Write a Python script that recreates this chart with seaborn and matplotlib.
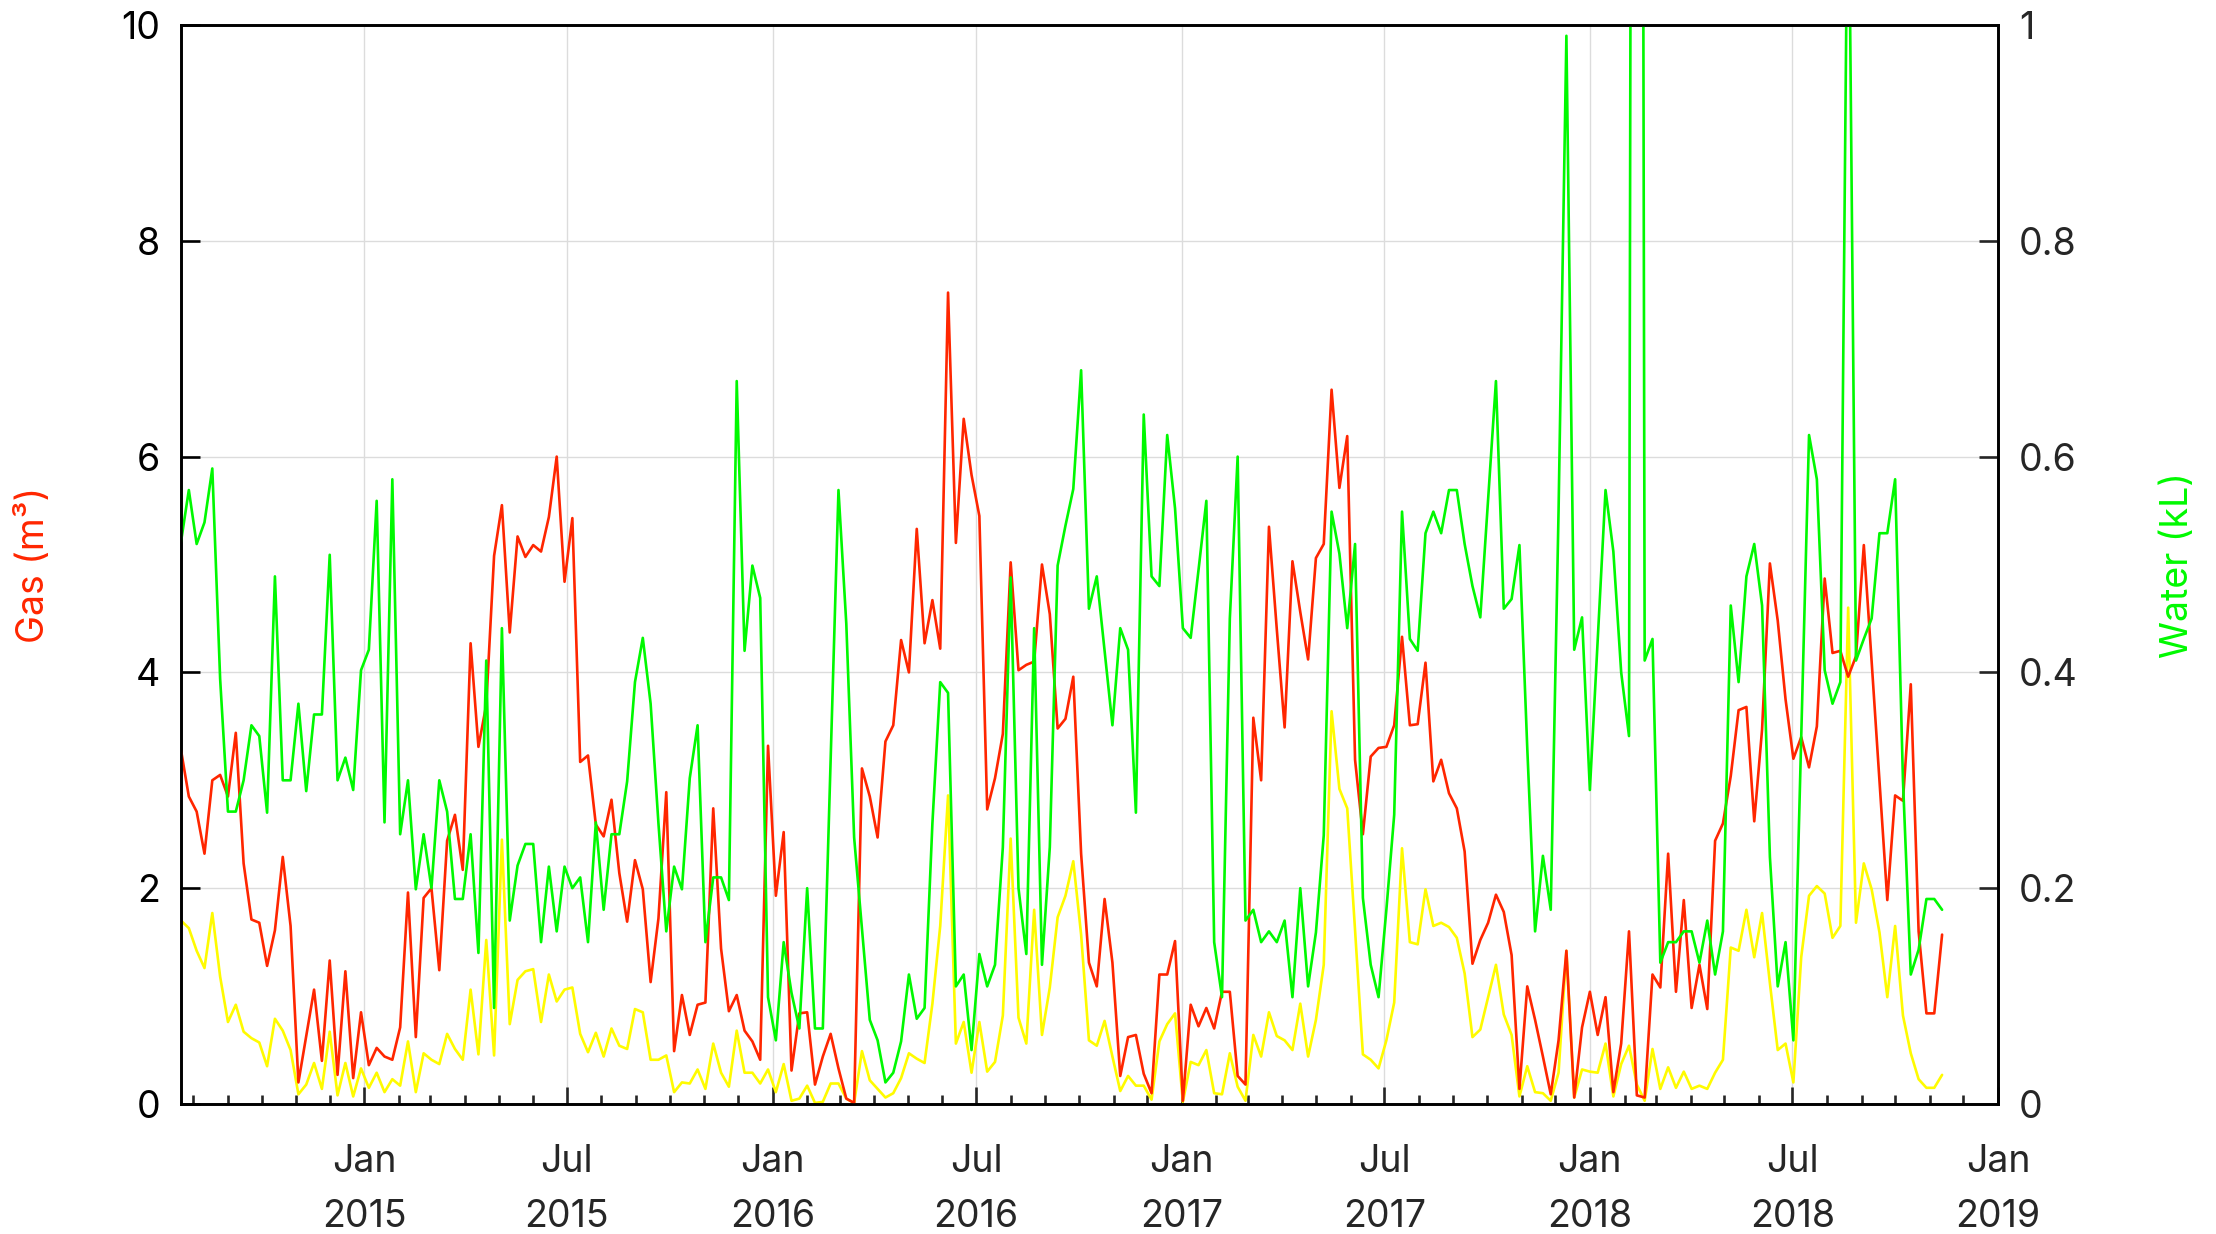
import numpy as np
import pandas as pd
import matplotlib
matplotlib.use("Agg")
import matplotlib.pyplot as plt
import matplotlib.dates as mdates
import seaborn as sns

# ---------------- data (weekly readings) ----------------
start_date = "2014-07-21"
gas = [3.28, 2.85, 2.71, 2.32, 3.0, 3.05, 2.85, 3.44, 2.23, 1.71,
       1.68, 1.28, 1.61, 2.29, 1.65, 0.2, 0.63, 1.06, 0.4, 1.33,
       0.27, 1.23, 0.24, 0.85, 0.36, 0.52, 0.44, 0.41, 0.71, 1.96,
       0.62, 1.91, 2.0, 1.24, 2.44, 2.68, 2.17, 4.27, 3.31, 3.7,
       5.08, 5.55, 4.37, 5.26, 5.07, 5.18, 5.12, 5.44, 6.0, 4.84,
       5.43, 3.17, 3.23, 2.59, 2.48, 2.82, 2.14, 1.69, 2.26, 1.99,
       1.13, 1.72, 2.89, 0.49, 1.01, 0.64, 0.92, 0.94, 2.74, 1.44,
       0.86, 1.01, 0.68, 0.58, 0.41, 3.32, 1.93, 2.52, 0.31, 0.84,
       0.85, 0.18, 0.44, 0.65, 0.33, 0.05, 0.01, 3.11, 2.85, 2.47,
       3.36, 3.51, 4.30, 4.0, 5.33, 4.27, 4.67, 4.22, 7.52, 5.2,
       6.35, 5.83, 5.45, 2.73, 3.02, 3.43, 5.02, 4.02, 4.07, 4.1,
       5.0, 4.54, 3.48, 3.57, 3.96, 2.32, 1.31, 1.09, 1.9, 1.31,
       0.26, 0.62, 0.64, 0.28, 0.1, 1.2, 1.2, 1.51, 0.03, 0.92,
       0.72, 0.89, 0.7, 1.04, 1.04, 0.26, 0.18, 3.58, 3.0, 5.35,
       4.4, 3.49, 5.03, 4.56, 4.12, 5.06, 5.19, 6.62, 5.71, 6.19,
       3.19, 2.5, 3.22, 3.3, 3.31, 3.51, 4.33, 3.51, 3.52, 4.09,
       2.99, 3.19, 2.88, 2.74, 2.34, 1.3, 1.52, 1.68, 1.94, 1.78,
       1.38, 0.14, 1.09, 0.78, 0.44, 0.09, 0.59, 1.42, 0.06, 0.71,
       1.04, 0.64, 0.99, 0.11, 0.56, 1.6, 0.08, 0.06, 1.2, 1.08,
       2.32, 1.04, 1.89, 0.89, 1.29, 0.88, 2.44, 2.6, 3.04, 3.65,
       3.68, 2.62, 3.47, 5.01, 4.48, 3.75, 3.2, 3.4, 3.12, 3.5,
       4.87, 4.18, 4.2, 3.96, 4.15, 5.18, 4.1, 3.0, 1.89, 2.86,
       2.81, 3.89, 1.6, 0.84, 0.84, 1.57]

gas_yellow = [1.70, 1.63, 1.42, 1.26, 1.77, 1.18, 0.76, 0.92, 0.67, 0.61,
              0.57, 0.35, 0.79, 0.68, 0.5, 0.09, 0.18, 0.38, 0.14, 0.67,
              0.08, 0.38, 0.07, 0.33, 0.15, 0.29, 0.11, 0.23, 0.17, 0.58,
              0.11, 0.47, 0.41, 0.37, 0.65, 0.51, 0.41, 1.06, 0.46, 1.52,
              0.45, 2.45, 0.74, 1.15, 1.23, 1.25, 0.76, 1.2, 0.95, 1.06,
              1.08, 0.65, 0.48, 0.66, 0.44, 0.7, 0.54, 0.51, 0.88, 0.85,
              0.41, 0.41, 0.45, 0.11, 0.2, 0.19, 0.32, 0.14, 0.56, 0.29,
              0.16, 0.68, 0.29, 0.29, 0.19, 0.32, 0.11, 0.37, 0.03, 0.05,
              0.17, 0.01, 0.02, 0.19, 0.19, 0.05, 0.01, 0.49, 0.22, 0.14,
              0.06, 0.1, 0.24, 0.47, 0.42, 0.38, 0.93, 1.65, 2.86, 0.56,
              0.76, 0.29, 0.76, 0.3, 0.39, 0.82, 2.46, 0.8, 0.56, 1.8,
              0.64, 1.08, 1.73, 1.93, 2.25, 1.57, 0.59, 0.54, 0.77, 0.44,
              0.12, 0.26, 0.17, 0.17, 0.04, 0.58, 0.74, 0.84, 0.02, 0.39,
              0.36, 0.5, 0.1, 0.09, 0.47, 0.16, 0.03, 0.64, 0.44, 0.85,
              0.63, 0.59, 0.5, 0.93, 0.44, 0.78, 1.29, 3.64, 2.92, 2.74,
              1.61, 0.46, 0.41, 0.33, 0.59, 0.94, 2.37, 1.5, 1.48, 1.99,
              1.65, 1.68, 1.64, 1.54, 1.21, 0.62, 0.69, 0.99, 1.29, 0.83,
              0.64, 0.07, 0.35, 0.11, 0.1, 0.03, 0.29, 1.42, 0.06, 0.32,
              0.3, 0.29, 0.56, 0.07, 0.37, 0.54, 0.18, 0.03, 0.51, 0.14,
              0.34, 0.15, 0.3, 0.14, 0.17, 0.14, 0.29, 0.41, 1.45, 1.42,
              1.8, 1.36, 1.77, 1.12, 0.5, 0.56, 0.2, 1.36, 1.93, 2.02,
              1.95, 1.54, 1.65, 4.6, 1.68, 2.23, 1.99, 1.59, 0.99, 1.65,
              0.82, 0.47, 0.23, 0.15, 0.15, 0.27]

water = [0.521, 0.569, 0.519, 0.539, 0.589, 0.394, 0.271, 0.271, 0.300, 0.351,
         0.341, 0.270, 0.489, 0.300, 0.300, 0.371, 0.290, 0.361, 0.361, 0.509,
         0.300, 0.321, 0.291, 0.402, 0.421, 0.559, 0.261, 0.579, 0.250, 0.300,
         0.199, 0.250, 0.200, 0.300, 0.271, 0.190, 0.190, 0.250, 0.140, 0.411,
         0.089, 0.441, 0.170, 0.221, 0.241, 0.241, 0.150, 0.220, 0.160, 0.220,
         0.200, 0.210, 0.150, 0.261, 0.180, 0.250, 0.250, 0.299, 0.391, 0.432,
         0.371, 0.260, 0.160, 0.220, 0.199, 0.302, 0.351, 0.150, 0.210, 0.210,
         0.189, 0.670, 0.420, 0.499, 0.469, 0.099, 0.059, 0.150, 0.103, 0.070,
         0.200, 0.070, 0.070, 0.320, 0.569, 0.445, 0.247, 0.163, 0.078, 0.059,
         0.020, 0.029, 0.058, 0.120, 0.079, 0.089, 0.260, 0.391, 0.381, 0.109,
         0.120, 0.050, 0.139, 0.109, 0.129, 0.238, 0.488, 0.200, 0.139, 0.441,
         0.129, 0.238, 0.499, 0.536, 0.570, 0.680, 0.459, 0.489, 0.420, 0.351,
         0.441, 0.421, 0.270, 0.639, 0.489, 0.480, 0.620, 0.552, 0.441, 0.432,
         0.495, 0.559, 0.150, 0.099, 0.450, 0.600, 0.170, 0.180, 0.150, 0.160,
         0.150, 0.170, 0.099, 0.200, 0.109, 0.159, 0.249, 0.549, 0.510, 0.441,
         0.519, 0.191, 0.129, 0.099, 0.180, 0.268, 0.549, 0.431, 0.420, 0.529,
         0.549, 0.529, 0.569, 0.569, 0.519, 0.480, 0.451, 0.560, 0.670, 0.459,
         0.468, 0.518, 0.330, 0.160, 0.230, 0.180, 0.550, 0.990, 0.421, 0.451,
         0.291, 0.430, 0.569, 0.512, 0.400, 0.341, 4.000, 0.411, 0.431, 0.131,
         0.150, 0.150, 0.160, 0.160, 0.131, 0.170, 0.120, 0.160, 0.462, 0.391,
         0.489, 0.519, 0.462, 0.229, 0.109, 0.150, 0.059, 0.340, 0.620, 0.579,
         0.402, 0.371, 0.391, 1.200, 0.411, 0.431, 0.450, 0.529, 0.529, 0.579,
         0.300, 0.120, 0.143, 0.190, 0.190, 0.180]

left_ticks = [0, 2, 4, 6, 8, 10]
right_ticks = [0, 0.2, 0.4, 0.6, 0.8, 1]
right_tick_labels = ["0", "0.2", "0.4", "0.6", "0.8", "1"]
x_end = "2019-01-01"

dates = pd.date_range(start_date, periods=len(gas), freq="7D")
df = pd.DataFrame({"date": dates, "gas": gas, "gas2": gas_yellow, "water": water})

# ---------------- style ----------------
sns.set_theme(style="white")
plt.rcParams["font.family"] = ["Inter", "DejaVu Sans"]

RED = "#FF2600"
GREEN = "#00F900"
YELLOW = "#FFFB00"
FS = 27
LW = 1.9

fig = plt.figure(figsize=(22.16, 12.34), dpi=100)
ax = fig.add_axes([181 / 2216, 1 - 1104 / 1234, (1998 - 181) / 2216, (1104 - 25) / 1234])
ax2 = ax.twinx()

sns.lineplot(data=df, x="date", y="gas", ax=ax, color=RED, linewidth=LW, zorder=3)
sns.lineplot(data=df, x="date", y="gas2", ax=ax, color=YELLOW, linewidth=LW, zorder=2)
sns.lineplot(data=df, x="date", y="water", ax=ax2, color=GREEN, linewidth=LW)

ax.set_xlim(dates[0], pd.Timestamp(x_end))
ax.set_ylim(0, 10)
ax2.set_ylim(0, 1)

ax.set_yticks(left_ticks)
ax.set_yticklabels([str(t) for t in left_ticks])
ax2.set_yticks(right_ticks)
ax2.set_yticklabels(right_tick_labels)

ax.xaxis.set_major_locator(mdates.MonthLocator(bymonth=[1, 7]))
ax.xaxis.set_minor_locator(mdates.MonthLocator())
ax.xaxis.set_major_formatter(mdates.DateFormatter("%b\n%Y"))

ax.grid(True, which="major", color="#dcdcdc", linewidth=1.0)
ax2.grid(False)
ax.set_axisbelow(True)

for a in (ax, ax2):
    for s in a.spines.values():
        s.set_color("black")
        s.set_linewidth(1.9)

ax.tick_params(axis="y", which="major", direction="in", length=14, width=1.9,
               labelsize=FS, pad=15, left=True, right=False, colors="black")
ax.tick_params(axis="x", which="major", direction="in", length=12.5, width=1.9,
               labelsize=FS, pad=28.5, bottom=True, top=False)
ax.tick_params(axis="x", which="minor", direction="in", length=6.7, width=1.9,
               bottom=True, top=False)
ax2.tick_params(axis="y", which="major", direction="in", length=14, width=1.9,
                labelsize=FS, pad=15, right=True, left=False)

for lab in ax.get_xticklabels():
    lab.set_linespacing(1.68)

ax.set_xlabel("")
ax.set_ylabel("Gas (m³)", color=RED, fontsize=FS)
ax2.set_ylabel("Water (kL)", color=GREEN, fontsize=FS)
ax.yaxis.set_label_coords(-0.071, 0.5)
ax2.yaxis.set_label_coords(1.089, 0.5)

fig.savefig("out.png", dpi=100)
